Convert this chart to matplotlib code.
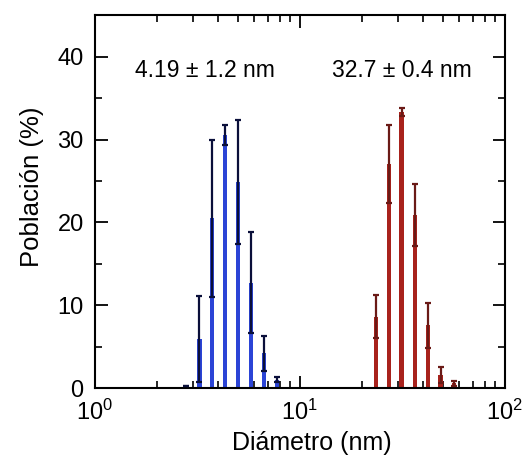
import numpy as np
import matplotlib.pyplot as plt

plt.rcParams['font.family'] = ['Liberation Sans', 'DejaVu Sans']

# diameters (nm), population (%) and error
d_small = [2.78, 3.23, 3.73, 4.32, 5.0, 5.77, 6.7, 7.75]
p_small = [0.3, 5.9, 20.5, 30.5, 24.9, 12.7, 4.2, 1.0]
e_small = [0.0, 5.2, 9.5, 1.2, 7.5, 6.1, 2.1, 0.3]

d_large = [23.5, 27.2, 31.4, 36.4, 42.1, 48.6, 56.4]
p_large = [8.6, 27.1, 33.3, 20.9, 7.6, 1.6, 0.6]
e_large = [2.6, 4.7, 0.5, 3.7, 2.7, 1.0, 0.3]

labels = ['4.19 ± 1.2 nm', '32.7 ± 0.4 nm']

fig = plt.figure(figsize=(5.27, 4.61), dpi=100)
ax = fig.add_axes([0.180, 0.158, 0.778, 0.809])

def logbar(x, h, err, color, ecolor):
    x = np.array(x)
    w = 0.011  # half width in decades
    left = x * 10**(-w)
    width = x * (10**w - 10**(-w))
    ax.bar(left, h, width=width, align='edge', color=color, zorder=2)
    ax.errorbar(x, h, yerr=err, fmt='none', ecolor=ecolor, elinewidth=1.6,
                capsize=2, capthick=1.6, zorder=3)

logbar(d_small, p_small, e_small, '#2b44d6', '#0a0f3a')
logbar(d_large, p_large, e_large, '#a8221c', '#6a1a16')

ax.set_xscale('log')
ax.set_xlim(1, 100)
ax.set_ylim(0, 45)
ax.set_yticks([0, 10, 20, 30, 40])
ax.set_yticks([5, 15, 25, 35], minor=True)

ax.text(3.44, 38.3, labels[0], ha='center', va='center', fontsize=16.5)
ax.text(31.4, 38.3, labels[1], ha='center', va='center', fontsize=16.5)

ax.set_xlabel('Diámetro (nm)', fontsize=18, labelpad=6)
ax.set_ylabel('Población (%)', fontsize=18.5, labelpad=10)
ax.xaxis.set_label_coords(0.53, -0.115)
ax.yaxis.label.set_y(0.54)

for s in ax.spines.values():
    s.set_linewidth(1.5)
ax.tick_params(which='both', direction='in', top=True, right=True, labelsize=17)
ax.tick_params(which='major', length=9, width=1.3, pad=8)
ax.tick_params(which='minor', length=5, width=1.2)

fig.savefig('out.png', dpi=100)
